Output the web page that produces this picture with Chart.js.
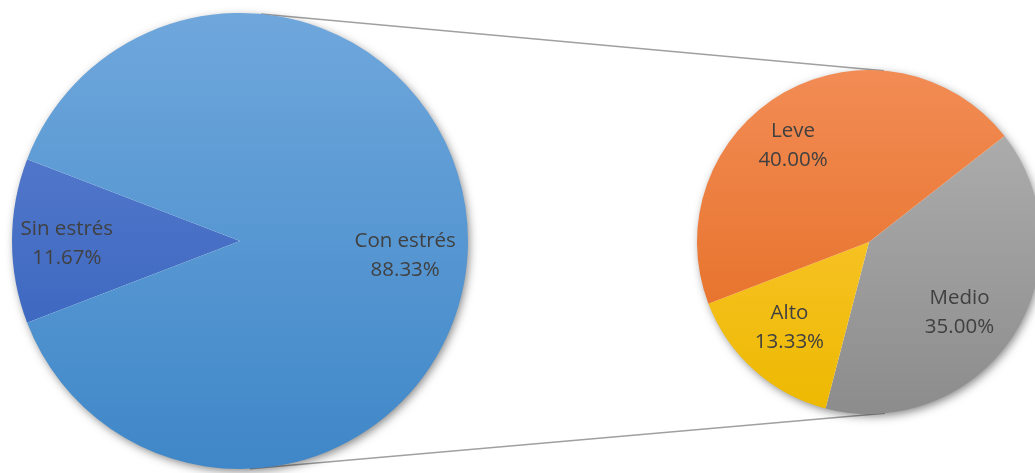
<!DOCTYPE html>
<html>
<head>
<meta charset="utf-8">
<script src="https://cdn.jsdelivr.net/npm/chart.js@4.4.0/dist/chart.umd.min.js"></script>
<style>
html, body { margin: 0; padding: 0; background: #fff; overflow: hidden; width: 1035px; height: 473px; }
#wrap { position: relative; width: 1035px; height: 473px; }
.box { position: absolute; top: 0; height: 473px; }
#lines { position: absolute; left: 0; top: 0; }
</style>
</head>
<body>
<div id="wrap">
  <canvas id="lines" width="1035" height="473"></canvas>
  <div class="box" style="left:0;width:480px"><canvas id="left"></canvas></div>
  <div class="box" style="left:680px;width:380px"><canvas id="right"></canvas></div>
</div>
<script>
// main pie
const mainLabels = ['Sin estrés', 'Con estrés']
const mainValues = [11.67, 88.33]
// secondary pie (split of "Con estrés")
const subLabels = ['Medio', 'Alto', 'Leve']
const subValues = [35.00, 13.33, 40.00]

const mainColors = [['#5F82D1', '#2F5DB9'], ['#6FA7DC', '#3F87C8']]
const subColors = [['#B3B3B3', '#8C8C8C'], ['#FFCA45', '#EDB900'], ['#F28C55', '#E3691C']]

const gradientFill = (colors) => (c) => {
  const {chart, dataIndex} = c
  const area = chart.chartArea
  if (!area) return colors[dataIndex][0]
  const g = chart.ctx.createLinearGradient(0, area.top, 0, area.bottom)
  g.addColorStop(0, colors[dataIndex][0])
  g.addColorStop(1, colors[dataIndex][1])
  return g
}

const pieShadow = {
  id: 'pieShadow',
  beforeDatasetsDraw: (chart) => {
    const arc = chart.getDatasetMeta(0).data[0]
    if (!arc) return
    const {ctx} = chart
    ctx.save()
    ctx.shadowColor = 'rgba(0,0,0,0.5)'
    ctx.shadowBlur = 10
    ctx.shadowOffsetX = 2
    ctx.shadowOffsetY = 3
    ctx.fillStyle = '#fff'
    ctx.beginPath()
    ctx.arc(arc.x, arc.y, arc.outerRadius - 1, 0, Math.PI * 2)
    ctx.fill()
    ctx.restore()
  }
}

const sliceLabels = {
  id: 'sliceLabels',
  afterDatasetsDraw: (chart, args, opts) => {
    const {ctx} = chart
    const ds = chart.data.datasets[0]
    ctx.save()
    ctx.font = '20.5px "Open Sans", "Liberation Sans", sans-serif'
    ctx.fillStyle = '#404040'
    ctx.textAlign = 'center'
    ctx.textBaseline = 'middle'
    chart.getDatasetMeta(0).data.forEach((arc, i) => {
      const mid = (arc.startAngle + arc.endAngle) / 2
      const r = arc.outerRadius * 0.72
      const nudge = opts.nudge[i] || [0, 0]
      const x = arc.x + Math.cos(mid) * r + nudge[0]
      const y = arc.y + Math.sin(mid) * r + nudge[1]
      ctx.fillText(chart.data.labels[i], x, y - 14.5)
      ctx.fillText(ds.data[i].toFixed(2) + '%', x, y + 14.5)
    })
    ctx.restore()
  }
}

const pieOptions = (rotation, padding, nudge) => ({
  responsive: true,
  maintainAspectRatio: false,
  animation: false,
  rotation,
  layout: {padding},
  plugins: {
    legend: {display: false},
    tooltip: {enabled: false},
    sliceLabels: {nudge}
  }
})

const leftChart = new Chart(document.getElementById('left'), {
  type: 'pie',
  data: {
    labels: mainLabels,
    datasets: [{data: mainValues, backgroundColor: gradientFill(mainColors), borderWidth: 0}]
  },
  options: pieOptions(249, {top: 13, bottom: 4, left: 12, right: 12}, [[-9, 3], [1, 15]]),
  plugins: [pieShadow, sliceLabels]
})

const rightChart = new Chart(document.getElementById('right'), {
  type: 'pie',
  data: {
    labels: subLabels,
    datasets: [{data: subValues, backgroundColor: gradientFill(subColors), borderWidth: 0}]
  },
  options: pieOptions(52, {top: 70, bottom: 59, left: 17, right: 19}, [[-13, 3], [3, -7], [-15, 11]]),
  plugins: [pieShadow, sliceLabels]
})

// connector lines between the two pies
const a = leftChart.getDatasetMeta(0).data[0]
const b = rightChart.getDatasetMeta(0).data[0]
const bx = 680
const pt = (arc, ox, deg) => [ox + arc.x + Math.cos(deg * Math.PI / 180) * arc.outerRadius,
                               arc.y + Math.sin(deg * Math.PI / 180) * arc.outerRadius]
const lctx = document.getElementById('lines').getContext('2d')
lctx.strokeStyle = '#A0A0A0'
lctx.lineWidth = 1.5
;[[-84.7, -85], [87.5, 84.7]].forEach(([d1, d2]) => {
  const p1 = pt(a, 0, d1)
  const p2 = pt(b, bx, d2)
  lctx.beginPath()
  lctx.moveTo(p1[0], p1[1])
  lctx.lineTo(p2[0], p2[1])
  lctx.stroke()
})
</script>
</body>
</html>
